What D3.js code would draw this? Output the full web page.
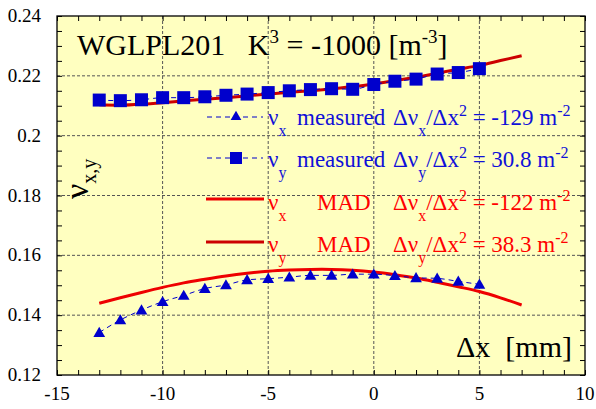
<!DOCTYPE html>
<html><head><meta charset="utf-8">
<script src="https://cdn.jsdelivr.net/npm/d3@7/dist/d3.min.js"></script>
<style>
body{margin:0;background:#fff}
svg{display:block}
svg text{font-family:"Liberation Serif","DejaVu Serif",serif !important}
</style>
</head><body>
<svg id="c" width="596" height="409" font-family="Liberation Serif, DejaVu Serif, serif"></svg>
<script>
// ---- data ----
const measuredX = [-13,-12,-11,-10,-9,-8,-7,-6,-5,-4,-3,-2,-1,0,1,2,3,4,5];
const nuXMeasured = [0.1342,0.1384,0.1417,0.1445,0.1466,0.1489,0.1501,0.1518,0.1522,0.1527,0.1533,0.1533,0.1537,0.1537,0.1532,0.1525,0.1523,0.1513,0.1503];
const nuYMeasured = [0.2119,0.2117,0.2120,0.2127,0.2127,0.2130,0.2135,0.2139,0.2144,0.2150,0.2154,0.2157,0.2155,0.2171,0.2182,0.2189,0.2206,0.2211,0.2224];
const madX = [-13,-12,-11,-10,-9,-8,-7,-6,-5,-4,-3,-2,-1,0,1,2,3,4,5,6,7];
const nuXMad = [0.1440,0.1458,0.1476,0.1493,0.1508,0.1520,0.1531,0.1540,0.1547,0.1551,0.1553,0.1553,0.1550,0.1544,0.1535,0.1524,0.1510,0.1495,0.1479,0.1458,0.1434];
const nuYMad = [0.2103,0.2102,0.2105,0.2110,0.2116,0.2122,0.2127,0.2133,0.2139,0.2145,0.2150,0.2156,0.2164,0.2173,0.2184,0.2195,0.2209,0.2222,0.2235,0.2251,0.2267];
const xTickLabels = [-15,-10,-5,0,5,10];
const yTickLabels = [0.12,0.14,0.16,0.18,0.2,0.22,0.24];
const legendLabels = [
  {nu:"x", name:"measured", sub:"x", val:"-129"},
  {nu:"y", name:"measured", sub:"y", val:"30.8"},
  {nu:"x", name:"MAD", sub:"x", val:"-122"},
  {nu:"y", name:"MAD", sub:"y", val:"38.3"}
];

// ---- layout ----
const L=57, R=585, T=16, B=375;
const FONT="Liberation Serif, DejaVu Serif, serif";
const blue="#0000cc", blueText="#1010d8", redX="#ee0000", redY="#cc0000", redText="#ff0000";
const svg=d3.select("#c");
const x=d3.scaleLinear().domain([-15,10]).range([L,R]);
const y=d3.scaleLinear().domain([0.12,0.24]).range([B,T]);

svg.append("rect").attr("x",L).attr("y",T).attr("width",R-L).attr("height",B-T).attr("fill","#ffffc0");

// grid
const g=svg.append("g");
xTickLabels.filter(v=>v>-15&&v<10).forEach(v=>{
  g.append("line").attr("x1",x(v)).attr("x2",x(v)).attr("y1",T).attr("y2",B)
   .attr("stroke","#555").attr("stroke-width",1).attr("stroke-dasharray","3,2");
});
yTickLabels.filter(v=>v>0.12&&v<0.24).forEach(v=>{
  g.append("line").attr("x1",L).attr("x2",R).attr("y1",y(v)).attr("y2",y(v))
   .attr("stroke","#555").attr("stroke-width",1).attr("stroke-dasharray","3,2");
});

// ticks (inward) using d3 axes
const xMinor=d3.range(-15,10.01,1);
const yMinor=d3.range(0,25).map(i=>+(0.12+i*0.005).toFixed(3));
function styleAxis(sel){sel.select(".domain").remove();sel.selectAll("line").attr("stroke","#000").attr("stroke-width",1);sel.selectAll("text").remove();}
svg.append("g").attr("transform",`translate(0,${B})`)
  .call(d3.axisBottom(x).tickValues(xMinor).tickSize(-5).tickFormat(""))
  .call(styleAxis);
svg.append("g").attr("transform",`translate(0,${T})`)
  .call(d3.axisTop(x).tickValues(xMinor).tickSize(-5).tickFormat(""))
  .call(styleAxis);
svg.append("g").attr("transform",`translate(${L},0)`)
  .call(d3.axisLeft(y).tickValues(yMinor).tickSize(-5).tickFormat(""))
  .call(styleAxis);
svg.append("g").attr("transform",`translate(${R},0)`)
  .call(d3.axisRight(y).tickValues(yMinor).tickSize(-5).tickFormat(""))
  .call(styleAxis);

// tick labels
svg.append("g").selectAll("text").data(xTickLabels).join("text")
  .attr("font-family",FONT)
  .attr("x",d=>x(d)).attr("y",400).attr("text-anchor","middle")
  .attr("font-size",19).text(d=>d);
svg.append("g").selectAll("text").data(yTickLabels).join("text")
  .attr("font-family",FONT)
  .attr("x",41).attr("y",d=>y(d)+6).attr("text-anchor","end")
  .attr("font-size",19).text(d=>String(d));

// frame
svg.append("rect").attr("x",L).attr("y",T).attr("width",R-L).attr("height",B-T)
  .attr("fill","none").attr("stroke","#000").attr("stroke-width",1.3);

// curves
const lineMad=(vals)=>d3.line().x((d,i)=>x(madX[i])).y(d=>y(d)).curve(d3.curveCatmullRom)(vals);
svg.append("path").attr("d",lineMad(nuXMad)).attr("fill","none").attr("stroke",redX).attr("stroke-width",3);
svg.append("path").attr("d",lineMad(nuYMad)).attr("fill","none").attr("stroke",redY).attr("stroke-width",3);

const lineMeas=(vals)=>d3.line().x((d,i)=>x(measuredX[i])).y(d=>y(d)).curve(d3.curveMonotoneX)(vals);
svg.append("path").attr("d",lineMeas(nuXMeasured)).attr("fill","none").attr("stroke",blue).attr("stroke-width",1).attr("stroke-dasharray","5,4");
svg.append("path").attr("d",lineMeas(nuYMeasured)).attr("fill","none").attr("stroke",blue).attr("stroke-width",1).attr("stroke-dasharray","5,4");

const tri=d3.symbol().type(d3.symbolTriangle).size(60);
svg.append("g").selectAll("path").data(nuXMeasured).join("path")
  .attr("d",tri).attr("transform",(d,i)=>`translate(${x(measuredX[i])},${y(d)+1})`).attr("fill",blue);
svg.append("g").selectAll("rect").data(nuYMeasured).join("rect")
  .attr("x",(d,i)=>x(measuredX[i])-6.5).attr("y",d=>y(d)-6.5).attr("width",13).attr("height",13).attr("fill",blue);

// title
const title=svg.append("text").attr("font-family",FONT).attr("x",77).attr("y",55).attr("font-size",30).attr("fill","#000");
title.append("tspan").text("WGLPL201\u00a0\u00a0\u00a0K");
title.append("tspan").attr("font-size",19).attr("dy",-12).text("3");
title.append("tspan").attr("dy",12).text(" = -1000 [m");
title.append("tspan").attr("font-size",19).attr("dy",-12).text("-3");
title.append("tspan").attr("dy",12).text("]");

// axis titles
svg.append("text").attr("font-family",FONT).attr("x",572).attr("y",357).attr("text-anchor","end").attr("font-size",30).attr("fill","#000")
  .text("\u0394x\u00a0\u00a0[mm]");
const yt=svg.append("text").attr("font-family",FONT).attr("transform","translate(88,199) rotate(-90)").attr("font-size",34).attr("fill","#000");
yt.append("tspan").text("\u03bd");
yt.append("tspan").attr("font-size",20).attr("dy",8).text("x,y");

// legend
const rowY=[117,158,199,242];
const baseY=[125,167,210,252];
legendLabels.forEach((d,i)=>{
  const col=i<2?blueText:redText;
  if(i<2){
    svg.append("line").attr("x1",207).attr("x2",263).attr("y1",rowY[i]).attr("y2",rowY[i])
      .attr("stroke",blue).attr("stroke-width",1).attr("stroke-dasharray","5,4");
    if(i===0){
      svg.append("path").attr("d",d3.symbol().type(d3.symbolTriangle).size(50)).attr("transform",`translate(236,${rowY[i]})`).attr("fill",blue);
    } else {
      svg.append("rect").attr("x",230).attr("y",rowY[i]-6).attr("width",12).attr("height",12).attr("fill",blue);
    }
  } else {
    svg.append("line").attr("x1",206).attr("x2",264).attr("y1",rowY[i]).attr("y2",rowY[i])
      .attr("stroke",i===2?redX:redY).attr("stroke-width",3);
  }
  const t1=svg.append("text").attr("font-family",FONT).attr("x",268).attr("y",baseY[i]).attr("font-size",23).attr("fill",col);
  t1.append("tspan").text("\u03bd");
  t1.append("tspan").attr("font-size",16).attr("dy",11).text(d.nu);
  svg.append("text").attr("font-family",FONT).attr("x",i<2?297:317).attr("y",baseY[i]).attr("font-size",23).attr("fill",col).text(d.name);
  const t2=svg.append("text").attr("font-family",FONT).attr("x",393).attr("y",baseY[i]).attr("font-size",23).attr("fill",col);
  t2.append("tspan").text("\u0394\u03bd");
  t2.append("tspan").attr("font-size",16).attr("dy",11).text(d.sub);
  t2.append("tspan").attr("dy",-11).text("/\u0394x");
  t2.append("tspan").attr("font-size",16).attr("dy",-9).text("2");
  t2.append("tspan").attr("dy",9).text(" = "+d.val+" m");
  t2.append("tspan").attr("font-size",16).attr("dy",-9).text("-2");
});
</script>
</body></html>
